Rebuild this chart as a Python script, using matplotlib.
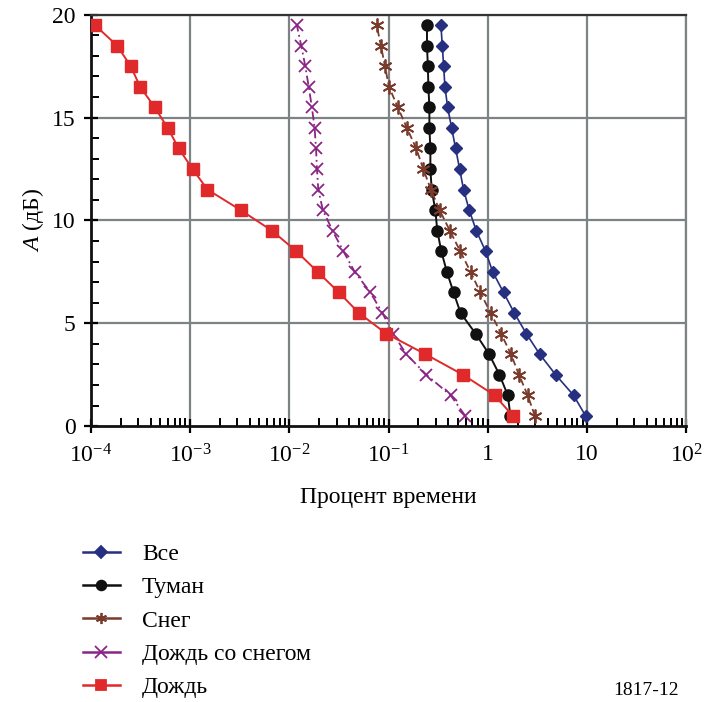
import numpy as np
import matplotlib
matplotlib.use("Agg")
import matplotlib.pyplot as plt
from matplotlib.lines import Line2D
from matplotlib.ticker import FixedLocator, LogLocator, NullFormatter, FixedFormatter

plt.rcParams['font.family'] = ['Liberation Serif', 'DejaVu Serif']
plt.rcParams['mathtext.fontset'] = 'custom'
plt.rcParams['mathtext.rm'] = 'Liberation Serif'
plt.rcParams['mathtext.it'] = 'Liberation Serif:italic'

# attenuation levels (dB)
A = [0.5, 1.5, 2.5, 3.5, 4.5, 5.5, 6.5, 7.5, 8.5, 9.5,
     10.5, 11.5, 12.5, 13.5, 14.5, 15.5, 16.5, 17.5, 18.5, 19.5]

# percent of time
vse = [9.66, 7.31, 4.82, 3.33, 2.44, 1.85, 1.44, 1.12, 0.95, 0.766,
       0.65, 0.57, 0.52, 0.474, 0.432, 0.394, 0.37, 0.359, 0.348, 0.337]
tuman = [1.69, 1.59, 1.31, 1.03, 0.753, 0.532, 0.452, 0.387, 0.34, 0.31,
         0.296, 0.272, 0.264, 0.264, 0.258, 0.258, 0.252, 0.249, 0.244, 0.244]
sneg = [2.98, 2.52, 2.06, 1.71, 1.36, 1.07, 0.84, 0.671, 0.528, 0.415,
        0.327, 0.267, 0.224, 0.19, 0.153, 0.124, 0.101, 0.092, 0.0838, 0.0759]
dozhd_sneg = [0.593, 0.422, 0.24, 0.151, 0.111, 0.0867, 0.0656, 0.0456, 0.0351, 0.0273,
              0.0218, 0.0196, 0.019, 0.0186, 0.018, 0.0169, 0.0157, 0.0145, 0.0132, 0.0119]
dozhd = [1.79, 1.17, 0.561, 0.235, 0.0946, 0.0503, 0.0316, 0.0193, 0.0118, 0.0067,
         0.00324, 0.0015, 0.00106, 0.00077, 0.000596, 0.000441, 0.000314, 0.000253, 0.000184, 0.00011]

names = ['Все', 'Туман', 'Снег', 'Дождь со снегом', 'Дождь']
colors = ['#262f80', '#111111', '#7a3a2c', '#8a2585', '#e0292a']

xticks = [1e-4, 1e-3, 1e-2, 1e-1, 1, 10, 100]
xticklabels = [r'$10^{-4}$', r'$10^{-3}$', r'$10^{-2}$', r'$10^{-1}$', '1', '10', r'$10^{2}$']

fig = plt.figure(figsize=(7.09, 7.02), dpi=100)
ax = fig.add_axes([0.128, 0.393, 0.840, 0.586])

grid_c = '#7d8285'
for v in xticks:
    ax.axvline(v, color=grid_c, lw=1.6, zorder=0)
for v in [5, 10, 15, 20]:
    ax.axhline(v, color=grid_c, lw=1.6, zorder=0)

ax.plot(vse, A, color=colors[0], lw=1.2, marker='D', ms=6, zorder=3)
ax.plot(tuman, A, color=colors[1], lw=1.4, marker='o', ms=8, zorder=3)
ax.plot(sneg, A, color=colors[2], lw=1.3, ls=(0, (4, 2)), marker=(6, 2, 0), ms=10,
        mew=1.3, zorder=3)
ax.plot(dozhd_sneg, A, color=colors[3], lw=1.3, ls=(0, (5, 2, 1, 2)), marker='x', ms=9,
        mew=1.3, zorder=3)
ax.plot(dozhd, A, color=colors[4], lw=1.4, marker='s', ms=8, zorder=3)

ax.set_xscale('log')
ax.set_xlim(1e-4, 1e2)
ax.set_ylim(0, 20)
ax.xaxis.set_major_locator(FixedLocator(xticks))
ax.xaxis.set_major_formatter(FixedFormatter(xticklabels))
ax.xaxis.set_minor_locator(LogLocator(base=10, subs=np.arange(2, 10), numticks=20))
ax.xaxis.set_minor_formatter(NullFormatter())
ax.set_yticks([0, 5, 10, 15, 20])
ax.set_yticks(np.arange(0, 21, 1), minor=True)

ax.tick_params(which='major', direction='inout', length=10, width=1.6, labelsize=17, pad=6)
ax.tick_params(which='minor', direction='in', length=6, width=1.4)
ax.tick_params(axis='x', which='major', pad=8)

for s in ['left', 'bottom']:
    ax.spines[s].set_color('#111111')
    ax.spines[s].set_linewidth(2)
ax.spines['top'].set_color('#333333')
ax.spines['top'].set_linewidth(1.6)
ax.spines['right'].set_color(grid_c)
ax.spines['right'].set_linewidth(1.6)

ax.set_xlabel('Процент времени', fontsize=17, labelpad=14)
ax.set_ylabel(r'$\it{A}$ (дБ)', fontsize=17, labelpad=4)

# legend below the axes: solid short lines with small markers
leg_markers = ['D', 'o', (6, 2, 0), 'x', 's']
leg_sizes = [6, 7, 8, 8, 7]
handles = [Line2D([], [], color=c, lw=1.8, marker=m, ms=s, mew=1.3)
           for c, m, s in zip(colors, leg_markers, leg_sizes)]
fig.legend(handles, names, loc='upper left', bbox_to_anchor=(0.117, 0.226), frameon=False,
           fontsize=17, handlelength=1.55, handletextpad=0.95, labelspacing=0.5,
           borderaxespad=0, borderpad=0)

fig.text(0.957, 0.017, '1817-12', ha='right', va='center', fontsize=14)

fig.savefig('out.png', dpi=100)
